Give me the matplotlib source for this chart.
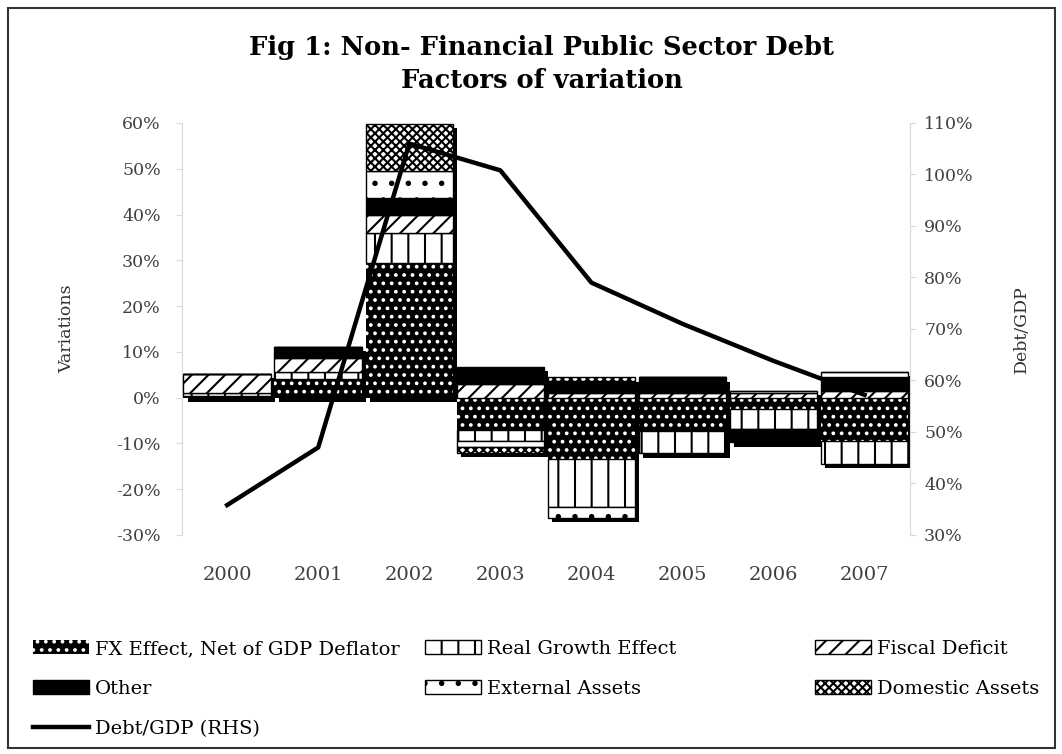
import numpy as np
import matplotlib.pyplot as plt
import matplotlib.patheffects as pe
from matplotlib.patches import Rectangle
from matplotlib.ticker import FuncFormatter, MultipleLocator

years = ["2000", "2001", "2002", "2003", "2004", "2005", "2006", "2007"]

# contributions, % of GDP
fx_effect = [0.4, 4.1, 29.5, -7.0, -13.3, -7.2, -2.4, -9.4]
real_growth = [0.6, 1.4, 6.5, -2.4, -10.7, -5.0, -4.4, -5.0]
fiscal_deficit = [4.2, 3.2, 4.0, 3.0, 1.0, 1.0, 1.0, 1.5]
other = [0.0, 2.3, 3.7, 3.8, 2.7, 3.4, -3.0, 2.9]
external_assets = [0.0, 0.0, 5.9, -1.3, -2.2, 0.0, 0.5, 1.3]
domestic_assets = [0.0, 0.0, 10.2, -1.3, 0.7, 0.0, 0.0, 0.0]

debt_gdp = [35.8, 47.0, 106.0, 100.8, 79.0, 71.0, 63.8, 57.2]

plt.rcParams["font.family"] = "DejaVu Serif"
plt.rcParams["hatch.linewidth"] = 1.5

fig = plt.figure(figsize=(10.62, 7.54), dpi=100)
ax = fig.add_axes([0.171, 0.2905, 0.686, 0.5464])
ax2 = ax.twinx()

series = [
    ("FX Effect, Net of GDP Deflator", fx_effect,
     dict(facecolor="black", edgecolor="white", hatch="..", linewidth=0)),
    ("Real Growth Effect", real_growth,
     dict(facecolor="white", edgecolor="black", hatch="|", linewidth=1)),
    ("Fiscal Deficit", fiscal_deficit,
     dict(facecolor="white", edgecolor="black", hatch="//", linewidth=1)),
    ("Other", other,
     dict(facecolor="black", edgecolor="black", linewidth=1)),
    ("External Assets", external_assets,
     dict(facecolor="white", edgecolor="black", hatch=".", linewidth=1)),
    ("Domestic Assets", domestic_assets,
     dict(facecolor="white", edgecolor="black", hatch="xxxx", linewidth=1)),
]

x = np.arange(len(years))
w = 0.96
pos = np.zeros(len(years))
neg = np.zeros(len(years))
handles = {}
for label, vals, st in series:
    v = np.array(vals)
    bottom = np.where(v >= 0, pos, neg)
    bars = ax.bar(x, v, bottom=bottom, width=w, label=label, zorder=3, **st)
    handles[label] = bars
    pos += np.clip(v, 0, None)
    neg += np.clip(v, None, 0)

# drop shadow behind each full bar
ax.bar(x, pos - neg, bottom=neg, width=w, zorder=2,
       path_effects=[pe.SimplePatchShadow(offset=(3, -3), shadow_rgbFace="black", alpha=1.0)])

line, = ax2.plot(x, debt_gdp, color="black", lw=3.2, label="Debt/GDP (RHS)")

ax.set_xlim(-0.5, 7.5)
ax.set_ylim(-30, 60)
ax2.set_ylim(30, 110)
ax.yaxis.set_major_locator(MultipleLocator(10))
ax2.yaxis.set_major_locator(MultipleLocator(10))
fmt = FuncFormatter(lambda v, p: f"{v:.0f}%")
ax.yaxis.set_major_formatter(fmt)
ax2.yaxis.set_major_formatter(fmt)

ax.set_xticks(x, years)
ax.tick_params(axis="x", length=0, pad=22, labelsize=14, labelcolor="#404040")
ax.tick_params(axis="y", length=4, color="#d9d9d9", labelsize=12.5, labelcolor="#404040", pad=11)
ax2.tick_params(axis="y", length=4, color="#d9d9d9", labelsize=12.5, labelcolor="#404040", pad=6)

for a in (ax, ax2):
    for s in ("top", "bottom"):
        a.spines[s].set_visible(False)
ax.spines["left"].set_color("#d9d9d9")
ax.spines["right"].set_visible(False)
ax2.spines["left"].set_visible(False)
ax2.spines["right"].set_color("#d9d9d9")

ax.set_ylabel("Variations", fontsize=12.5, color="#333333")
ax.yaxis.set_label_coords(-0.146, 0.5)
ax2.set_ylabel("Debt/GDP", fontsize=12.5, color="#333333", rotation=90)
ax2.yaxis.set_label_coords(1.141, 0.5)

fig.text(0.51, 1 - 48 / 754, "Fig 1: Non- Financial Public Sector Debt",
         ha="center", va="center", fontsize=18.5, weight="bold")
fig.text(0.51, 1 - 80 / 754, "Factors of variation",
         ha="center", va="center", fontsize=18.5, weight="bold")

leg_kw = dict(loc="upper left", frameon=False, fontsize=14, handlelength=2.9,
              handleheight=0.7, handletextpad=0.3, labelspacing=1.13,
              borderpad=0, borderaxespad=0)
cols = [
    (33, [handles["FX Effect, Net of GDP Deflator"], handles["Other"], line],
     ["FX Effect, Net of GDP Deflator", "Other", "Debt/GDP (RHS)"]),
    (425, [handles["Real Growth Effect"], handles["External Assets"]],
     ["Real Growth Effect", "External Assets"]),
    (815, [handles["Fiscal Deficit"], handles["Domestic Assets"]],
     ["Fiscal Deficit", "Domestic Assets"]),
]
for px, hs, ls in cols:
    fig.legend(hs, ls, bbox_to_anchor=(px / 1062, 1 - 640 / 754), **leg_kw)

fig.patches.append(Rectangle((8 / 1062, 6 / 754), 1047 / 1062, 740 / 754,
                             transform=fig.transFigure, fill=False,
                             edgecolor="#333333", linewidth=1.5))

fig.savefig("out.png", dpi=100)
